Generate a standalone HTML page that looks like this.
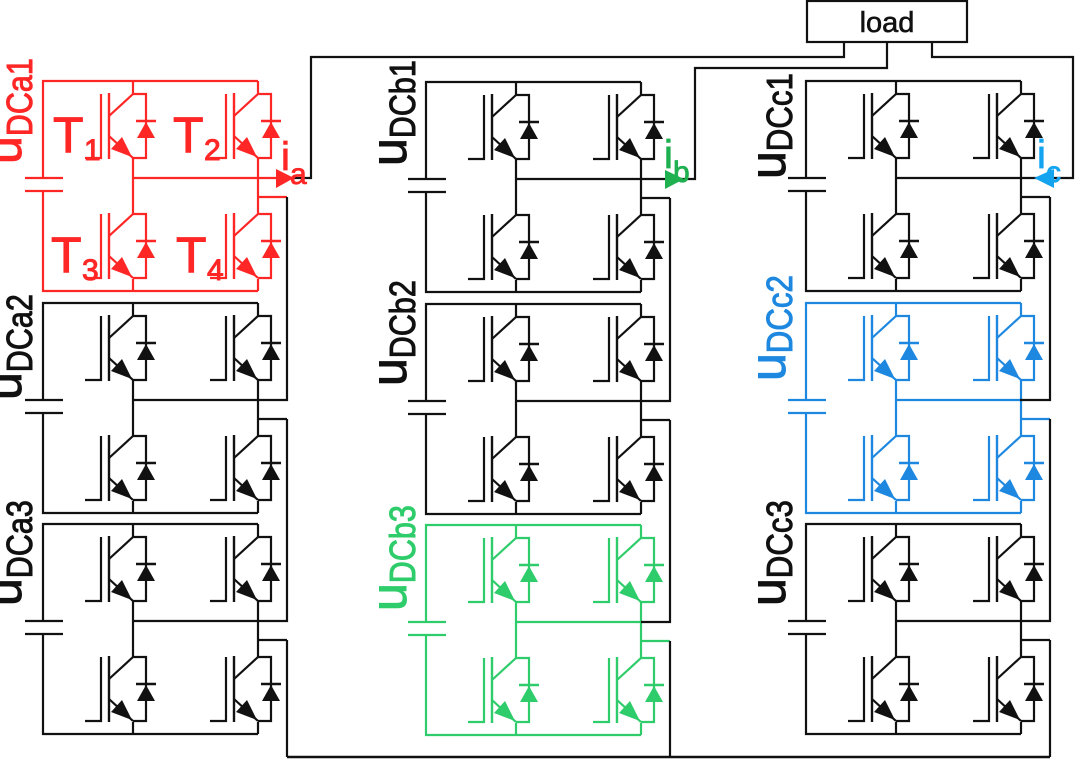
<!DOCTYPE html>
<html><head><meta charset="utf-8"><style>
html,body{margin:0;padding:0;background:#fff;}
svg{display:block;}
text{font-family:"Liberation Sans",Arial,sans-serif;}
</style></head><body>
<svg width="1076" height="760" viewBox="0 0 1076 760" xmlns="http://www.w3.org/2000/svg">
<defs>
<g id="q">
  <path d="M0,0 H13 V64 H0" fill="none" stroke="currentColor" stroke-width="2.2"/>
  <polygon points="4,44 22,44 13,28" fill="currentColor"/>
  <path d="M3,27 H23" stroke="currentColor" stroke-width="2.4"/>
  <path d="M-24,-1 V65" stroke="currentColor" stroke-width="2.4"/>
  <path d="M-48,64 H-32 V0" fill="none" stroke="currentColor" stroke-width="2.2"/>
  <path d="M0,0 L-24,22 M-24,42 L0,64" fill="none" stroke="currentColor" stroke-width="2.2"/>
  <polygon points="-1,63 -22,55 -11,43" fill="currentColor"/>
</g>
<g id="m">
  <path d="M0,97 V0 H215 M0,110 V210 H215 M-18,97 H20 M-18,110 H20 M90,0 V13 M90,77 V133 M90,198 V210 M215,0 V13 M215,77 V133 M215,198 V210 M90,97 H215 M215,116 H244" fill="none" stroke="currentColor" stroke-width="2.2"/>
  <use href="#q" x="90" y="13"/>
  <use href="#q" x="90" y="133"/>
  <use href="#q" x="215" y="13"/>
  <use href="#q" x="215" y="133"/>
</g>
</defs>

<use href="#m" x="43" y="81" color="#ff2626"/>
<use href="#m" x="43" y="303" color="#111"/>
<use href="#m" x="43" y="524" color="#111"/>
<use href="#m" x="426" y="82" color="#111"/>
<use href="#m" x="426" y="304" color="#111"/>
<use href="#m" x="426" y="525" color="#2ecc6a"/>
<use href="#m" x="806" y="81" color="#111"/>
<use href="#m" x="806" y="303" color="#1e88e0"/>
<use href="#m" x="806" y="524" color="#111"/>

<g fill="none" stroke="#111" stroke-width="2.2">
  <path d="M287,197 V400 H258 M287,419 V621 H258 M287,640 V757"/>
  <path d="M670,198 V401 H641 M670,420 V622 H641 M670,641 V757"/>
  <path d="M1050,197 V400 H1020 M1050,419 V621 H1020 M1050,640 V757"/>
  <path d="M287,757 H1050" stroke-width="2.6"/>
  <rect x="807" y="1" width="160" height="41"/>
  <path d="M844,42 V57 H311 V178 H292"/>
  <path d="M887,42 V68 H695 V179 H641"/>
  <path d="M932,42 V57 H1073 V178 H1020"/>
</g>
<text x="887" y="32" font-size="29" text-anchor="middle" fill="#111" stroke="#111" stroke-width="0.6">load</text>

<path d="M258,178 H280" stroke="#ff2626" stroke-width="2.2"/>
<polygon points="276,169 294,178 276,188" fill="#ff2626"/>
<g stroke-width="0.8">
<text x="281" y="170" font-size="40" fill="#ff2626" stroke="#ff2626">i</text>
<text x="290" y="184" font-size="30" fill="#ff2626" stroke="#ff2626">a</text>
<polygon points="665,170 684,179 665,189" fill="#1fb050"/>
<text x="664" y="168" font-size="40" fill="#1fb050" stroke="#1fb050">i</text>
<text x="673" y="182" font-size="30" fill="#1fb050" stroke="#1fb050">b</text>
<polygon points="1054,169 1034,178 1054,188" fill="#14a4ef"/>
<text x="1037" y="168" font-size="40" fill="#14a4ef" stroke="#14a4ef">i</text>
<text x="1046" y="182" font-size="30" fill="#14a4ef" stroke="#14a4ef">c</text>
</g>

<g fill="#ff2626" stroke="#ff2626" stroke-width="1">
  <text x="53" y="152" font-size="50">T</text><text x="84" y="160" font-size="30">1</text>
  <text x="173" y="152" font-size="50">T</text><text x="204" y="160" font-size="30">2</text>
  <text x="51" y="272" font-size="50">T</text><text x="82" y="280" font-size="30">3</text>
  <text x="176" y="272" font-size="50">T</text><text x="207" y="280" font-size="30">4</text>
</g>

<g stroke-width="1">
  <text transform="translate(21,164) rotate(-90)" fill="#ff2626" stroke="#ff2626"><tspan font-size="50">u</tspan><tspan font-size="36" dy="11" textLength="78" lengthAdjust="spacingAndGlyphs">DCa1</tspan></text>
  <text transform="translate(21,400) rotate(-90)" fill="#111" stroke="#111"><tspan font-size="50">u</tspan><tspan font-size="36" dy="11" textLength="78" lengthAdjust="spacingAndGlyphs">DCa2</tspan></text>
  <text transform="translate(21,606) rotate(-90)" fill="#111" stroke="#111"><tspan font-size="50">u</tspan><tspan font-size="36" dy="11" textLength="78" lengthAdjust="spacingAndGlyphs">DCa3</tspan></text>
  <text transform="translate(406,166) rotate(-90)" fill="#111" stroke="#111"><tspan font-size="50">u</tspan><tspan font-size="36" dy="9" textLength="78" lengthAdjust="spacingAndGlyphs">DCb1</tspan></text>
  <text transform="translate(406,386) rotate(-90)" fill="#111" stroke="#111"><tspan font-size="50">u</tspan><tspan font-size="36" dy="9" textLength="78" lengthAdjust="spacingAndGlyphs">DCb2</tspan></text>
  <text transform="translate(406,611) rotate(-90)" fill="#2ecc6a" stroke="#2ecc6a"><tspan font-size="50">u</tspan><tspan font-size="36" dy="9" textLength="78" lengthAdjust="spacingAndGlyphs">DCb3</tspan></text>
  <text transform="translate(785,179) rotate(-90)" fill="#111" stroke="#111"><tspan font-size="50">u</tspan><tspan font-size="36" dy="7" textLength="78" lengthAdjust="spacingAndGlyphs">DCc1</tspan></text>
  <text transform="translate(785,381) rotate(-90)" fill="#1e88e0" stroke="#1e88e0"><tspan font-size="50">u</tspan><tspan font-size="36" dy="7" textLength="78" lengthAdjust="spacingAndGlyphs">DCc2</tspan></text>
  <text transform="translate(785,606) rotate(-90)" fill="#111" stroke="#111"><tspan font-size="50">u</tspan><tspan font-size="36" dy="7" textLength="78" lengthAdjust="spacingAndGlyphs">DCc3</tspan></text>
</g>
</svg>
</body></html>
